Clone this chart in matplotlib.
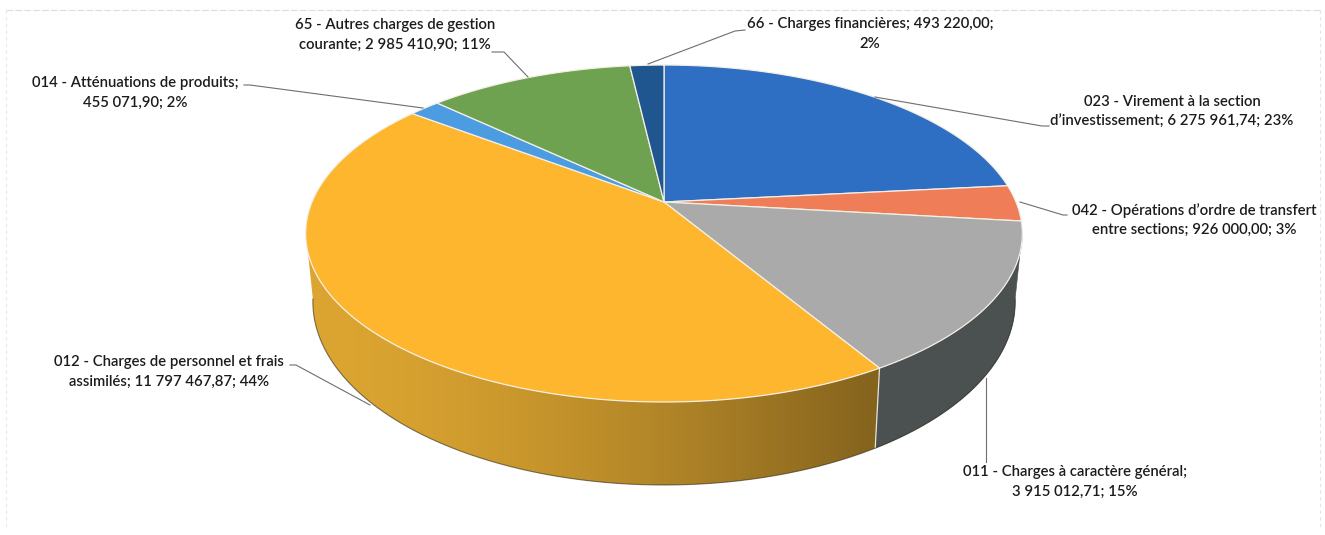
import numpy as np
import matplotlib
matplotlib.use("Agg")
import matplotlib.pyplot as plt
from matplotlib.patches import Polygon
from matplotlib.colors import to_rgb

plt.rcParams['font.family'] = ['Lato', 'DejaVu Sans']

# chapitres, dans le sens des aiguilles a partir de midi
values = [6275961.74, 926000.00, 3915012.71, 11797467.87, 455071.90, 2985410.90, 493220.00]
labels = [
    "023 - Virement à la section\nd’investissement; 6 275 961,74; 23%",
    "042 - Opérations d’ordre de transfert\nentre sections; 926 000,00; 3%",
    "011 - Charges à caractère général;\n3 915 012,71; 15%",
    "012 - Charges de personnel et frais\nassimilés; 11 797 467,87; 44%",
    "014 - Atténuations de produits;\n455 071,90; 2%",
    "65 - Autres charges de gestion\ncourante; 2 985 410,90; 11%",
    "66 - Charges financières; 493 220,00;\n2%",
]
top_colors = ["#2f6fc3", "#ee7d58", "#a9aaa9", "#fdb62e", "#4c9ce2", "#6ea250", "#1f568f"]
side_colors = ["#1f4a82", "#a05439", "#4a5150", "#dca531", "#33689a", "#4a7036", "#143a60"]
label_pos = [(1172, 112), (1194, 220), (1075, 482), (169, 372), (135, 93), (395, 35), (870, 34)]
leaders = [
    [(875, 97), (1042, 126), (1049, 126)],
    [(1020, 202), (1063, 215), (1067, 215)],
    [(986, 378), (986, 462)],
    [(290, 365), (296, 365), (370, 405)],
    [(244, 85), (250, 85), (423, 108)],
    [(492, 52), (504, 52), (528, 77)],
    [(745, 30), (735, 31), (648, 64)],
]

# disque vu en perspective
CX, CY = 664, 202
A, B, K = 352, 162.6, 0.187
SIDE_FROM, SIDE_TO = np.radians(100), np.radians(260)


def top_xy(theta):
    u, v = np.sin(theta), -np.cos(theta)
    d = 1 - K * v
    return CX + A * u / d, CY + B * v / d


def bottom_xy(theta):
    x, y = top_xy(theta)
    return CX + (x - CX) * 0.98, 267.4 + (y - CY) * 1.088


fig = plt.figure(figsize=(13.25, 5.35), dpi=100)
ax = fig.add_axes([0, 0, 1, 1])

# cadre du scan
ax.plot([6, 1320], [10, 10], color="#dcdcdc", lw=0.8, ls=(0, (6, 2)))
ax.plot([6, 6], [10, 530], color="#e8e8e8", lw=0.8, ls=(0, (3, 3)))
ax.plot([1320, 1320], [10, 530], color="#e4e4e4", lw=0.8, ls=(0, (3, 3)))

shares = np.array(values) / np.sum(values)
edges = np.concatenate([[0], np.cumsum(shares)]) * 2 * np.pi

# flanc
for i in range(len(values)):
    a0, a1 = edges[i], edges[i + 1]
    lo, hi = max(a0, SIDE_FROM), min(a1, SIDE_TO)
    if hi <= lo:
        continue
    th = np.linspace(lo, hi, 200)
    xt, yt = top_xy(th)
    xb, yb = bottom_xy(th[::-1])
    pts = np.column_stack([np.r_[xt, xb], np.r_[yt, yb]])
    if i == 3:
        # le jaune fonce vers la droite
        poly = Polygon(pts, facecolor="none", edgecolor="none", zorder=2)
        ax.add_patch(poly)
        t = np.clip((np.arange(300, 900) - 320) / (875 - 320), 0, 1)[None, :, None]
        grad = np.array(to_rgb(side_colors[3]))[None, None, :] * (1 - 0.4 * t ** 1.5)
        im = ax.imshow(grad, extent=(300, 900, 500, 200), aspect="auto", zorder=2)
        im.set_clip_path(poly)
    else:
        ax.add_patch(Polygon(pts, facecolor=side_colors[i], edgecolor=side_colors[i],
                             lw=0.4, zorder=2))
    ax.plot(xb, yb, color="#2e2a1c", lw=0.8, alpha=0.6, zorder=3)
    # arete claire entre deux flancs
    if a1 < SIDE_TO and a1 > SIDE_FROM:
        xt, yt = top_xy(a1)
        xb, yb = bottom_xy(a1)
        ax.plot([xt, xb], [yt, yb], color="#e8e4d8", lw=0.9, zorder=3)

# dessus
for i in range(len(values)):
    th = np.linspace(edges[i], edges[i + 1], 200)
    x, y = top_xy(th)
    pts = np.column_stack([np.r_[CX, x], np.r_[CY, y]])
    ax.add_patch(Polygon(pts, facecolor=top_colors[i], edgecolor="#f4efe6", lw=0.9,
                         joinstyle="round", zorder=4))

for pts in leaders:
    xs, ys = zip(*pts)
    ax.plot(xs, ys, color="#6e6e6e", lw=0.8, zorder=5)

for lab, (x, y) in zip(labels, label_pos):
    ax.text(x, y, lab, ha="center", va="center", fontsize=10.7, color="#1c1c1c",
            fontweight="semibold", linespacing=1.52, zorder=6)

ax.set_xlim(0, 1325)
ax.set_ylim(535, 0)
ax.axis("off")

fig.savefig("out.png", dpi=100, facecolor="white")
